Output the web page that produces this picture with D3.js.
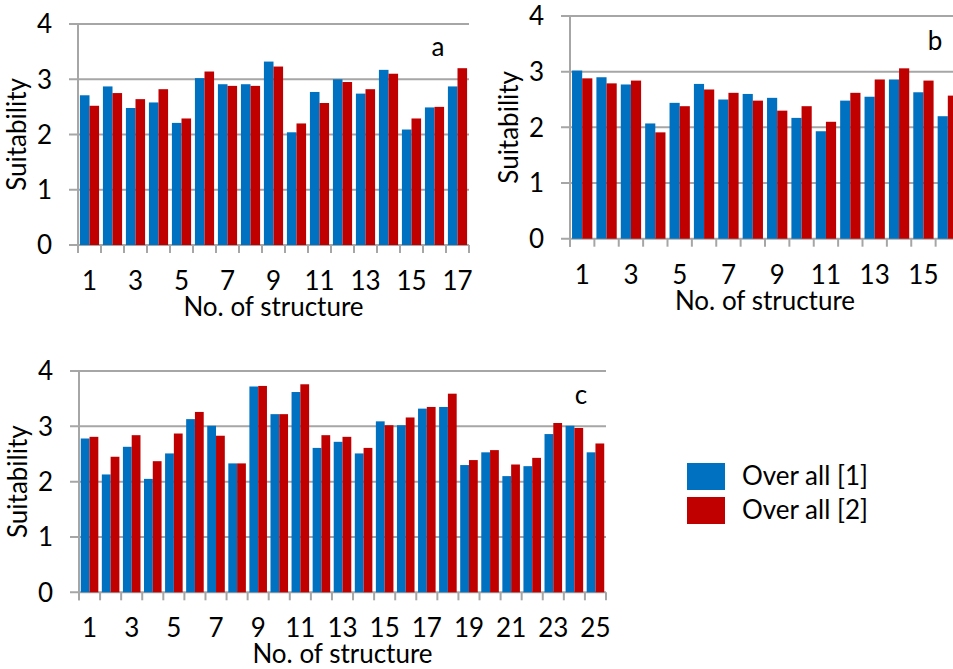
<!DOCTYPE html>
<html>
<head>
<meta charset="utf-8">
<script src="https://cdn.jsdelivr.net/npm/d3@7"></script>
<style>
  html, body { margin: 0; padding: 0; background: #fff; }
  svg { display: block; }
  text { font-family: Lato, "Open Sans", sans-serif; fill: #000; }
</style>
</head>
<body>
<svg id="chart" width="953" height="669"></svg>
<script>
// Suitability scores per structure, two overall assessments
const seriesNames = ["Over all [1]", "Over all [2]"];
const seriesColors = ["#0070C0", "#C00000"];
const yTicks = [0, 1, 2, 3, 4];

const structuresA = [1, 2, 3, 4, 5, 6, 7, 8, 9, 10, 11, 12, 13, 14, 15, 16, 17];
const overall1A = [2.71, 2.87, 2.48, 2.58, 2.21, 3.02, 2.91, 2.91, 3.32, 2.04, 2.77, 3.00, 2.74, 3.17, 2.09, 2.49, 2.87];
const overall2A = [2.52, 2.75, 2.64, 2.82, 2.29, 3.14, 2.88, 2.88, 3.23, 2.20, 2.57, 2.95, 2.82, 3.10, 2.29, 2.50, 3.20];

const structuresB = [1, 2, 3, 4, 5, 6, 7, 8, 9, 10, 11, 12, 13, 14, 15, 16];
const overall1B = [3.02, 2.90, 2.77, 2.07, 2.44, 2.78, 2.50, 2.60, 2.53, 2.17, 1.93, 2.48, 2.55, 2.86, 2.63, 2.20];
const overall2B = [2.88, 2.79, 2.84, 1.91, 2.38, 2.68, 2.62, 2.48, 2.30, 2.38, 2.10, 2.62, 2.86, 3.06, 2.84, 2.57];

const structuresC = [1, 2, 3, 4, 5, 6, 7, 8, 9, 10, 11, 12, 13, 14, 15, 16, 17, 18, 19, 20, 21, 22, 23, 24, 25];
const overall1C = [2.78, 2.13, 2.63, 2.05, 2.51, 3.13, 3.01, 2.33, 3.72, 3.22, 3.62, 2.61, 2.72, 2.51, 3.09, 3.02, 3.32, 3.35, 2.30, 2.53, 2.10, 2.28, 2.86, 3.01, 2.53];
const overall2C = [2.81, 2.45, 2.84, 2.37, 2.87, 3.26, 2.83, 2.33, 3.73, 3.22, 3.76, 2.84, 2.81, 2.61, 3.02, 3.16, 3.35, 3.59, 2.39, 2.57, 2.31, 2.43, 3.06, 2.97, 2.69];

const svg = d3.select("#chart");
const gridColor = "#a6a6a6";
const fontSize = 26;

function drawPanel(cats, s1, s2, box, tag) {
  const g = svg.append("g");
  const x = d3.scaleBand().domain(cats).range([box.left, box.right]).paddingInner(0).paddingOuter(0);
  const xs = d3.scaleBand().domain(seriesNames).range([0, x.bandwidth()]).paddingInner(0).paddingOuter(0.2);
  const y = d3.scaleLinear().domain([0, 4]).range([box.bottom, box.top]);

  // horizontal gridlines with left ticks
  g.selectAll("line.grid").data(yTicks).join("line")
    .attr("x1", box.left - 9).attr("x2", box.right)
    .attr("y1", d => y(d)).attr("y2", d => y(d))
    .attr("stroke", gridColor).attr("stroke-width", 2);

  // vertical axis line
  g.append("line")
    .attr("x1", box.left).attr("x2", box.left)
    .attr("y1", y(4)).attr("y2", y(0) + 8)
    .attr("stroke", gridColor).attr("stroke-width", 2);

  // category boundary ticks below the baseline
  const bounds = cats.map(c => x(c)).concat([x(cats[cats.length - 1]) + x.bandwidth()]);
  g.selectAll("line.xtick").data(bounds).join("line")
    .attr("x1", d => d).attr("x2", d => d)
    .attr("y1", y(0)).attr("y2", y(0) + 8)
    .attr("stroke", gridColor).attr("stroke-width", 2);

  // bars
  const rows = cats.map((c, i) => [
    { cat: c, s: seriesNames[0], v: s1[i], col: seriesColors[0] },
    { cat: c, s: seriesNames[1], v: s2[i], col: seriesColors[1] }
  ]).flat();
  g.selectAll("rect.bar").data(rows).join("rect")
    .attr("x", d => x(d.cat) + xs(d.s))
    .attr("width", xs.bandwidth())
    .attr("y", d => y(d.v))
    .attr("height", d => y(0) - y(d.v))
    .attr("fill", d => d.col);

  // y tick labels
  g.selectAll("text.ylab").data(yTicks).join("text")
    .attr("x", box.left - 26).attr("y", d => y(d))
    .attr("dy", "0.36em")
    .attr("text-anchor", "end")
    .style("font-size", fontSize + "px")
    .text(d => d);

  // x tick labels on odd structures
  g.selectAll("text.xlab").data(cats.filter(c => c % 2 === 1)).join("text")
    .attr("x", d => x(d) + x.bandwidth() / 2)
    .attr("y", y(0) + 45)
    .attr("text-anchor", "middle")
    .style("font-size", fontSize + "px")
    .text(d => d);

  // axis titles
  g.append("text")
    .attr("x", (box.left + box.right) / 2)
    .attr("y", y(0) + 71)
    .attr("text-anchor", "middle")
    .style("font-size", fontSize + "px")
    .text("No. of structure");

  g.append("text")
    .attr("transform", `translate(${box.left - 52},${(box.top + box.bottom) / 2}) rotate(-90)`)
    .attr("text-anchor", "middle")
    .style("font-size", fontSize + "px")
    .text("Suitability");

  // panel letter
  g.append("text")
    .attr("x", tag.x).attr("y", tag.y)
    .attr("text-anchor", "middle")
    .style("font-size", fontSize + "px")
    .text(tag.label);
}

drawPanel(structuresA, overall1A, overall2A, { left: 78, right: 469, top: 24, bottom: 245 }, { label: "a", x: 438, y: 56 });
drawPanel(structuresB, overall1B, overall2B, { left: 570, right: 960, top: 16, bottom: 238.7 }, { label: "b", x: 935, y: 50 });
drawPanel(structuresC, overall1C, overall2C, { left: 79, right: 606, top: 371, bottom: 592.3 }, { label: "c", x: 581, y: 404 });

// legend
const legend = svg.append("g");
seriesNames.forEach((name, i) => {
  legend.append("rect")
    .attr("x", 687).attr("y", 463 + i * 34)
    .attr("width", 38).attr("height", 27)
    .attr("fill", seriesColors[i]);
  legend.append("text")
    .attr("x", 742).attr("y", 476 + i * 34)
    .attr("dy", "0.36em")
    .style("font-size", fontSize + "px")
    .text(name);
});
</script>
</body>
</html>
